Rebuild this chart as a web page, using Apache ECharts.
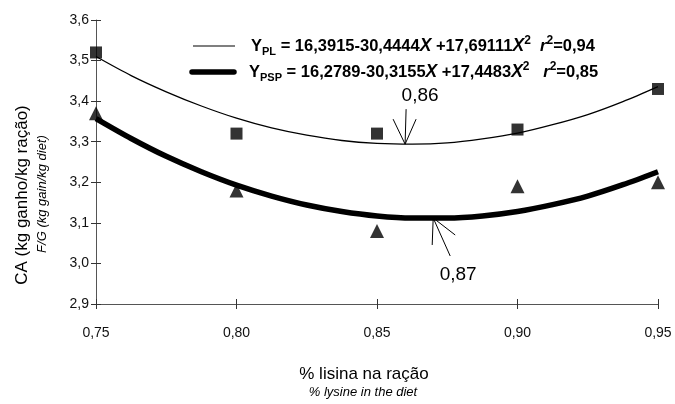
<!DOCTYPE html>
<html>
<head>
<meta charset="utf-8">
<script src="https://cdn.jsdelivr.net/npm/echarts@6/dist/echarts.min.js"></script>
<style>
  html, body { margin: 0; padding: 0; background: #fff; }
  #chart { width: 675px; height: 404px; }
</style>
</head>
<body>
<div id="chart"></div>
<script>
// observed points
const lysine = [0.75, 0.80, 0.85, 0.90, 0.95]
const obsPL = [3.52, 3.32, 3.32, 3.33, 3.43]
const obsPSP = [3.37, 3.18, 3.08, 3.19, 3.20]

// fitted curves
const fitX = [0.75, 0.7625, 0.775, 0.7875, 0.80, 0.8125, 0.825, 0.8375, 0.85,
              0.8625, 0.875, 0.8875, 0.90, 0.9125, 0.925, 0.9375, 0.95]
const fitPL = [3.510, 3.463, 3.423, 3.388, 3.358, 3.334, 3.316, 3.303, 3.296,
               3.294, 3.297, 3.307, 3.321, 3.342, 3.367, 3.399, 3.436]
const fitPSP = [3.357, 3.308, 3.264, 3.226, 3.193, 3.166, 3.144, 3.128, 3.117,
                3.112, 3.112, 3.117, 3.128, 3.145, 3.166, 3.194, 3.226]

// minimum points marked with arrows
const minX = [0.86, 0.87]
const minY = [3.294, 3.112]
const minLabels = ['0,86', '0,87']

const yTicks = [2.9, 3.6, 0.1]   // min, max, step
const xTicks = [0.75, 0.95, 0.05]

const FONT = '"Liberation Sans", Arial, sans-serif'
const comma = (d) => (v) => v.toFixed(d).replace('.', ',')
const pairs = (xs, ys) => xs.map((x, i) => [x, ys[i]])

const chart = echarts.init(document.getElementById('chart'))

const axisBase = {
    type: 'value',
    splitLine: { show: false },
    axisLine: { show: true, lineStyle: { color: '#555', width: 1 } },
    axisTick: { show: true, length: 5, lineStyle: { color: '#333' } }
}

const option = {
    animation: false,
    grid: { left: 96, right: 17, top: 20, bottom: 100 },
    xAxis: [
        Object.assign({}, axisBase, {
            min: xTicks[0], max: xTicks[1], interval: xTicks[2],
            axisLabel: { formatter: comma(2), color: '#111', fontSize: 14, fontFamily: FONT, margin: 22 }
        }),
        Object.assign({}, axisBase, {
            min: xTicks[0], max: xTicks[1], interval: xTicks[2], position: 'bottom',
            axisLine: { show: false },
            axisTick: { show: true, inside: true, length: 5, lineStyle: { color: '#333' } },
            axisLabel: { show: false }
        })
    ],
    yAxis: [
        Object.assign({}, axisBase, {
            min: yTicks[0], max: yTicks[1], interval: yTicks[2],
            axisLabel: { formatter: comma(1), color: '#111', fontSize: 14, fontFamily: FONT, margin: 7 }
        }),
        Object.assign({}, axisBase, {
            min: yTicks[0], max: yTicks[1], interval: yTicks[2], position: 'left',
            axisLine: { show: false },
            axisTick: { show: true, inside: true, length: 5, lineStyle: { color: '#333' } },
            axisLabel: { show: false }
        })
    ],
    series: [
        {
            name: 'PL fit', type: 'line', smooth: 0.3, symbol: 'none',
            data: pairs(fitX, fitPL),
            lineStyle: { color: '#000', width: 1.3 }
        },
        {
            name: 'PSP fit', type: 'line', smooth: 0.3, symbol: 'none',
            data: pairs(fitX, fitPSP),
            lineStyle: { color: '#000', width: 5.5 }
        },
        {
            name: 'PL', type: 'scatter', symbol: 'rect', symbolSize: 12,
            data: pairs(lysine, obsPL),
            itemStyle: { color: '#000' }, z: 5
        },
        {
            name: 'PSP', type: 'scatter', symbol: 'triangle', symbolSize: 14,
            data: pairs(lysine, obsPSP),
            itemStyle: { color: '#000' }, z: 5
        }
    ]
}
chart.setOption(option)

const eqRich = {
    t: { fontSize: 16.5, fontWeight: 'bold', fontFamily: FONT, color: '#000', lineHeight: 20 },
    y: { fontSize: 16.5, fontWeight: 'bold', fontFamily: FONT, color: '#000', lineHeight: 20 },
    sub: { fontSize: 11, fontWeight: 'bold', fontFamily: FONT, color: '#000', verticalAlign: 'bottom', lineHeight: 16 },
    x: { fontSize: 17.5, fontWeight: 'bold', fontStyle: 'italic', fontFamily: FONT, color: '#000', lineHeight: 20 },
    sup: { fontSize: 12, fontWeight: 'bold', fontFamily: FONT, color: '#000', verticalAlign: 'top', lineHeight: 22 },
    r: { fontSize: 16.5, fontWeight: 'bold', fontStyle: 'italic', fontFamily: FONT, color: '#000', lineHeight: 20 }
}

function arrowGraphics() {
    const g = []
    // offsets of shaft, arrow heads and label from the tip
    const shapes = [
        { shaft: [1, -35], h1: [-12, -25], h2: [11, -25], label: [15, -48] },
        { shaft: [17, 38], h1: [-1, 27], h2: [22, 17], label: [25, 57] }
    ]
    minX.forEach((x, i) => {
        const tip = chart.convertToPixel({ gridIndex: 0 }, [x, minY[i]])
        const s = shapes[i]
        ;[s.shaft, s.h1, s.h2].forEach(d => {
            g.push({
                type: 'line',
                shape: { x1: tip[0], y1: tip[1], x2: tip[0] + d[0], y2: tip[1] + d[1] },
                style: { stroke: '#000', lineWidth: 1 }, z: 10
            })
        })
        g.push({
            type: 'text', x: tip[0] + s.label[0], y: tip[1] + s.label[1],
            style: { text: minLabels[i], font: '19px ' + FONT, fill: '#000', align: 'center', verticalAlign: 'middle' }, z: 10
        })
    })
    return g
}

chart.setOption({
    graphic: [
        { type: 'line', shape: { x1: 193, y1: 46, x2: 235, y2: 46 }, style: { stroke: '#000', lineWidth: 1.2 } },
        { type: 'line', shape: { x1: 192, y1: 72, x2: 234, y2: 72 }, style: { stroke: '#000', lineWidth: 5.5, lineCap: 'round' } },
        {
            type: 'text', x: 251, y: 46,
            style: {
                text: '{y|Y}{sub|PL}{t| = 16,3915-30,4444}{x|X}{t| +17,69111}{x|X}{sup|2}{t|  }{r|r}{sup|2}{t|=0,94}',
                rich: eqRich, verticalAlign: 'middle'
            }
        },
        {
            type: 'text', x: 249, y: 72,
            style: {
                text: '{y|Y}{sub|PSP}{t| = 16,2789-30,3155}{x|X}{t| +17,4483}{x|X}{sup|2}{t|   }{r|r}{sup|2}{t|=0,85}',
                rich: eqRich, verticalAlign: 'middle'
            }
        },
        {
            type: 'text', x: 22, y: 195, rotation: Math.PI / 2,
            style: { text: 'CA (kg ganho/kg ração)', font: '17px ' + FONT, fill: '#000', align: 'center', verticalAlign: 'middle' }
        },
        {
            type: 'text', x: 42, y: 194, rotation: Math.PI / 2,
            style: { text: 'F/G (kg gain/kg diet)', font: 'italic 13px ' + FONT, fill: '#000', align: 'center', verticalAlign: 'middle' }
        },
        {
            type: 'text', x: 364, y: 374,
            style: { text: '% lisina na ração', font: '17px ' + FONT, fill: '#000', align: 'center', verticalAlign: 'middle' }
        },
        {
            type: 'text', x: 363, y: 392,
            style: { text: '% lysine in the diet', font: 'italic 13px ' + FONT, fill: '#000', align: 'center', verticalAlign: 'middle' }
        }
    ].concat(arrowGraphics())
})
</script>
</body>
</html>
